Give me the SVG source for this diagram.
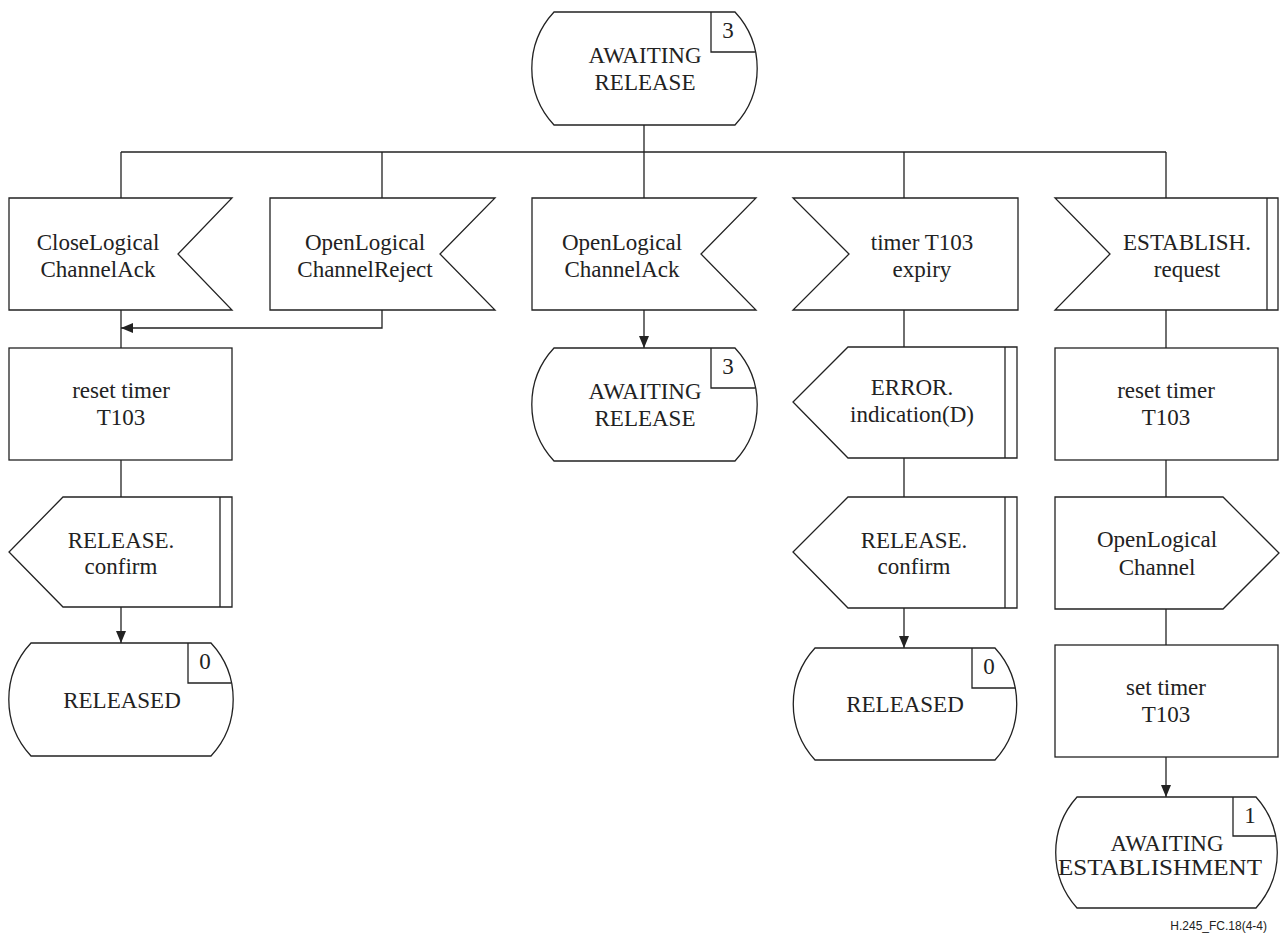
<svg xmlns="http://www.w3.org/2000/svg" width="1287" height="936" viewBox="0 0 1287 936">
<style>
.s{fill:#fff;stroke:#222;stroke-width:1.3}
.l{fill:none;stroke:#222;stroke-width:1.3}
.t{font-family:"Liberation Serif","Times New Roman",serif;font-size:23px;fill:#222;text-anchor:middle}
.f{font-family:"Liberation Sans",Arial,sans-serif;font-size:12px;fill:#222;text-anchor:end}
</style>
<defs>
<marker id="ah" markerUnits="userSpaceOnUse" markerWidth="12" markerHeight="10" refX="12" refY="5" orient="auto">
<path d="M0,0 L12,5 L0,10 Z" fill="#222"/>
</marker>
</defs>
<rect width="1287" height="936" fill="#fff"/>
<g id="connectors">
<path class="l" d="M644,125 V152"/>
<path class="l" d="M121,152 H1166"/>
<path class="l" d="M121,152 V198 M382,152 V198 M644,152 V198 M904,152 V198 M1166,152 V198"/>
<path class="l" d="M121,310 V348"/>
<path class="l" d="M382,310 V328 H121" marker-end="url(#ah)"/>
<path class="l" d="M121,460 V497"/>
<path class="l" d="M121,607 V643" marker-end="url(#ah)"/>
<path class="l" d="M644,310 V348" marker-end="url(#ah)"/>
<path class="l" d="M904,310 V347"/>
<path class="l" d="M904,458 V497"/>
<path class="l" d="M904,608 V648" marker-end="url(#ah)"/>
<path class="l" d="M1166,310 V348"/>
<path class="l" d="M1166,460 V497"/>
<path class="l" d="M1166,609 V645"/>
<path class="l" d="M1166,757 V797" marker-end="url(#ah)"/>
</g>
<g id="state_top">
<path class="s" d="M554,12 H735 A83 83 0 0 1 735,125 H554 A83 83 0 0 1 554,12 Z"/>
<path class="l" d="M711,12 V52 H755"/>
<text class="t" x="728" y="38">3</text>
<text class="t" x="645" y="63">AWAITING</text>
<text class="t" x="645" y="90">RELEASE</text>
</g>
<g id="in_closeack">
<path class="s" d="M9,198 H232 L178,254 L232,310 H9 Z"/>
<text class="t" x="98" y="250">CloseLogical</text>
<text class="t" x="98" y="277">ChannelAck</text>
</g>
<g id="in_openreject">
<path class="s" d="M270,198 H495 L440,254 L495,310 H270 Z"/>
<text class="t" x="365" y="250">OpenLogical</text>
<text class="t" x="365" y="277">ChannelReject</text>
</g>
<g id="in_openack">
<path class="s" d="M532,198 H756 L701,254 L756,310 H532 Z"/>
<text class="t" x="622" y="250">OpenLogical</text>
<text class="t" x="622" y="277">ChannelAck</text>
</g>
<g id="in_timer">
<path class="s" d="M793,198 H1018 V310 H793 L849,254 Z"/>
<text class="t" x="922" y="250">timer T103</text>
<text class="t" x="922" y="277">expiry</text>
</g>
<g id="in_establish">
<path class="s" d="M1055,198 H1278 V310 H1055 L1110,254 Z"/>
<path class="l" d="M1267,198 V310"/>
<text class="t" x="1187" y="250">ESTABLISH.</text>
<text class="t" x="1187" y="277">request</text>
</g>
<g id="task_reset1">
<rect class="s" x="9" y="348" width="223" height="112"/>
<text class="t" x="121" y="398">reset timer</text>
<text class="t" x="121" y="425">T103</text>
</g>
<g id="out_release1">
<path class="s" d="M63,497 H232 V607 H63 L9,552 Z"/>
<path class="l" d="M220,497 V607"/>
<text class="t" x="121" y="548">RELEASE.</text>
<text class="t" x="121" y="574">confirm</text>
</g>
<g id="state_released1">
<path class="s" d="M31,643 H211 A83 83 0 0 1 211,756 H31 A83 83 0 0 1 31,643 Z"/>
<path class="l" d="M188,643 V683 H231"/>
<text class="t" x="205" y="669">0</text>
<text class="t" x="122" y="708">RELEASED</text>
</g>
<g id="state_awaiting_release2">
<path class="s" d="M554,348 H735 A83 83 0 0 1 735,461 H554 A83 83 0 0 1 554,348 Z"/>
<path class="l" d="M711,348 V388 H755"/>
<text class="t" x="728" y="374">3</text>
<text class="t" x="645" y="399">AWAITING</text>
<text class="t" x="645" y="426">RELEASE</text>
</g>
<g id="out_error">
<path class="s" d="M848,347 H1017 V458 H848 L793,402 Z"/>
<path class="l" d="M1005,347 V458"/>
<text class="t" x="912" y="395">ERROR.</text>
<text class="t" x="912" y="422">indication(D)</text>
</g>
<g id="out_release4">
<path class="s" d="M848,497 H1017 V608 H848 L793,552 Z"/>
<path class="l" d="M1005,497 V608"/>
<text class="t" x="914" y="548">RELEASE.</text>
<text class="t" x="914" y="574">confirm</text>
</g>
<g id="state_released4">
<path class="s" d="M815,648 H995 A83 83 0 0 1 995,760 H815 A83 83 0 0 1 815,648 Z"/>
<path class="l" d="M972,648 V688 H1015"/>
<text class="t" x="989" y="674">0</text>
<text class="t" x="905" y="712">RELEASED</text>
</g>
<g id="task_reset5">
<rect class="s" x="1055" y="348" width="223" height="112"/>
<text class="t" x="1166" y="398">reset timer</text>
<text class="t" x="1166" y="425">T103</text>
</g>
<g id="out_openlc">
<path class="s" d="M1055,497 H1223 L1279,553 L1223,609 H1055 Z"/>
<text class="t" x="1157" y="547">OpenLogical</text>
<text class="t" x="1157" y="575">Channel</text>
</g>
<g id="task_set5">
<rect class="s" x="1055" y="645" width="223" height="112"/>
<text class="t" x="1166" y="695">set timer</text>
<text class="t" x="1166" y="722">T103</text>
</g>
<g id="state_awaiting_est">
<path class="s" d="M1077,797 H1256 A83 83 0 0 1 1256,908 H1077 A83 83 0 0 1 1077,797 Z"/>
<path class="l" d="M1233,797 V836 H1276"/>
<text class="t" x="1250" y="823">1</text>
<text class="t" x="1167" y="851">AWAITING</text>
<text class="t" x="1160" y="875" textLength="204" lengthAdjust="spacingAndGlyphs">ESTABLISHMENT</text>
</g>
<text class="f" x="1267" y="930">H.245_FC.18(4-4)</text>
</svg>
